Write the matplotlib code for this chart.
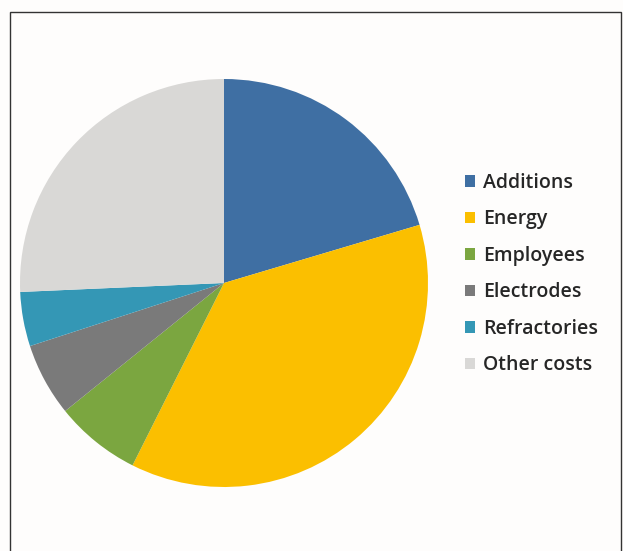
import matplotlib
matplotlib.use("Agg")
import matplotlib.pyplot as plt
from matplotlib.patches import Rectangle, Patch

categories = ["Additions", "Energy", "Employees", "Electrodes", "Refractories", "Other costs"]
shares = [20.4, 37.0, 6.8, 5.8, 4.3, 25.7]
colors = ["#3f6fa3", "#fbbf00", "#7ba640", "#7a7a7a", "#3497b5", "#d9d8d6"]

W, H = 623, 551
fig = plt.figure(figsize=(W / 100, H / 100), dpi=100)
fig.patch.set_facecolor("#fefdfc")

# outer frame (open at the bottom edge)
fig.add_artist(Rectangle((10 / W, -0.05), 611 / W, 1.05 - 12 / H,
                         transform=fig.transFigure, fill=False,
                         edgecolor="#333333", linewidth=1.0))

cx, cy, r = 224, 283, 204
ax = fig.add_axes([(cx - r) / W, (H - cy - r) / H, 2 * r / W, 2 * r / H])
ax.pie(shares, colors=colors, startangle=90, counterclock=False, radius=1,
       wedgeprops=dict(linewidth=0))
ax.set_xlim(-1, 1)
ax.set_ylim(-1, 1)
ax.set_aspect("equal")
ax.axis("off")

handles = [Patch(facecolor=c, edgecolor="none") for c in colors]
leg = fig.legend(handles, categories, loc="upper left",
                 bbox_to_anchor=(455 / W, 1 - 163 / H),
                 frameon=False,
                 prop=dict(family="Open Sans", size=14, weight="semibold"),
                 handlelength=0.55, handleheight=0.55, handletextpad=0.4,
                 labelspacing=0.85, borderpad=0)
for t in leg.get_texts():
    t.set_color("#262626")

fig.savefig("out.png", dpi=100, facecolor=fig.get_facecolor())
